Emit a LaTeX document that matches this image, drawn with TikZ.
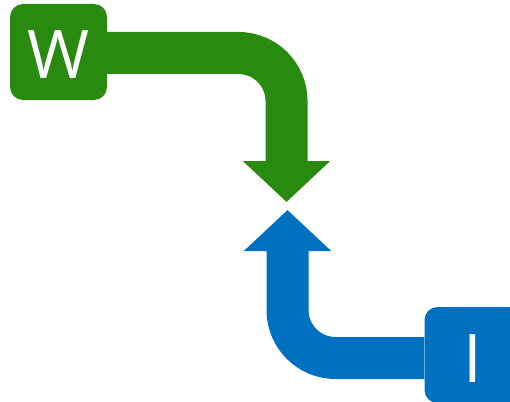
\documentclass[tikz,border=0pt]{standalone}
\usepackage{fontspec}
\setmainfont{Open Sans}
\usetikzlibrary{arrows.meta}
\definecolor{flowgreen}{HTML}{288A0E}
\definecolor{flowblue}{HTML}{0070C0}
\tikzset{
  tagbox/.style={rounded corners=13pt, minimum width=97pt, minimum height=96pt,
    inner sep=0pt, text=white, font=\fontsize{67}{67}\selectfont,
    text height=54pt, text depth=0pt},
  bentarrow/.style={line width=42pt, rounded corners=48pt,
    -{Triangle[width=85pt,length=41pt]}},
}
\begin{document}
\begin{tikzpicture}[x=1pt,y=-1pt]
  \useasboundingbox (0,0) rectangle (510,401);
  % arrow tips meeting in the middle
  \coordinate (gtip) at (286.5,202);
  \coordinate (btip) at (287.5,210);
  % labelled boxes
  \node[tagbox, fill=flowgreen] (w) at (58.5,52) {W};
  \node[tagbox, fill=flowblue] (i) at (473,355) {I};
  % bent connectors
  \draw[bentarrow, draw=flowgreen]
    (w.east |- 0,53) -- (gtip |- 0,53) -- (gtip);
  \draw[bentarrow, draw=flowblue]
    (i.west |- 0,358) -- (btip |- 0,358) -- (btip);
\end{tikzpicture}
\end{document}
